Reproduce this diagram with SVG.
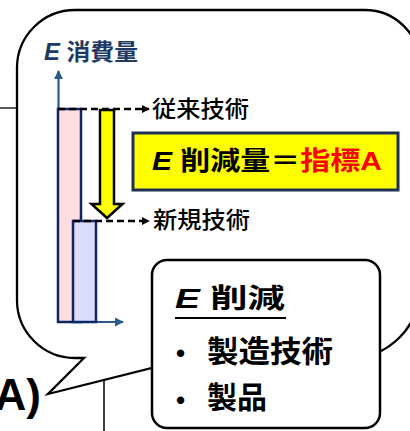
<svg xmlns="http://www.w3.org/2000/svg" width="410" height="431" viewBox="0 0 410 431">
<style>
.t{font-family:"Liberation Sans","Noto Sans CJK JP",sans-serif;}
.b{font-weight:bold;}
.m{font-family:"Noto Sans CJK JP",sans-serif;font-weight:500;}
.i{font-style:italic;}
.bar{stroke:#0d2766;stroke-width:2.5;}
.dash{stroke:#000;stroke-width:2.4;stroke-dasharray:7 4;fill:none;}
.axis{stroke:#2b5a88;stroke-width:2.2;fill:none;}
</style>
<defs>
<marker id="ah" viewBox="0 0 10 10" refX="9" refY="5" markerWidth="8" markerHeight="8" markerUnits="userSpaceOnUse" orient="auto"><path d="M0 0 L10 5 L0 10 Z" fill="#000"/></marker>
<marker id="axh" viewBox="0 0 10 10" refX="9" refY="5" markerWidth="9" markerHeight="9" markerUnits="userSpaceOnUse" orient="auto"><path d="M0 0 L10 5 L0 10 Z" fill="#2b5a88"/></marker>
</defs>
<g id="background">
<line x1="0" y1="108" x2="17" y2="108" stroke="#000" stroke-width="1.3"/>
<line x1="104" y1="380" x2="104" y2="431" stroke="#000" stroke-width="1.5"/>
<text class="t b" x="41" y="410" font-size="44" text-anchor="end" fill="#000">A)</text>
</g>
<g id="bubble">
<path d="M75 10 L365 10 A55 55 0 0 1 420 65 L420 288 A70 70 0 0 1 350 358 L192 358 L48 394 L84 358 L75 358 A58 58 0 0 1 17 300 L17 68 A58 58 0 0 1 75 10 Z" fill="#fff" stroke="#000" stroke-width="2.3"/>
</g>
<g id="axis-label">
<text class="t b" x="44" y="60" font-size="23" fill="#203864" textLength="94" lengthAdjust="spacingAndGlyphs"><tspan class="i">E</tspan> 消費量</text>
</g>
<g id="connectors">
<line class="axis" x1="58.5" y1="322" x2="58.5" y2="71" marker-end="url(#axh)"/>
<line class="axis" x1="58.5" y1="322" x2="123" y2="322" marker-end="url(#axh)"/>
</g>
<g id="bar-old">
<rect class="bar" x="58" y="109" width="23" height="213" fill="#ffdde0"/>
</g>
<g id="bar-new">
<rect class="bar" x="73" y="221" width="23" height="101" fill="#dcdcfc"/>
</g>
<g id="dashed-arrows">
<line class="dash" x1="58" y1="109" x2="149" y2="109" marker-end="url(#ah)"/>
<line class="dash" x1="73" y1="221" x2="149" y2="221" marker-end="url(#ah)"/>
</g>
<g id="label-old">
<text class="m" x="152" y="116.5" font-size="23" fill="#000" textLength="97" lengthAdjust="spacingAndGlyphs">従来技術</text>
</g>
<g id="label-new">
<text class="m" x="153" y="228" font-size="23" fill="#000" textLength="97" lengthAdjust="spacingAndGlyphs">新規技術</text>
</g>
<g id="reduction-arrow">
<path d="M100 110 L114 110 L114 204 L122.5 204 L107 218 L91.5 204 L100 204 Z" fill="#ffff00" stroke="#000" stroke-width="2.5" stroke-linejoin="miter"/>
</g>
<g id="indicator-box">
<rect x="133" y="133" width="265" height="57" fill="#ffff00" stroke="#1f3050" stroke-width="3"/>
<text class="t b" x="152" y="170" font-size="26" textLength="230" lengthAdjust="spacingAndGlyphs"><tspan class="i" fill="#000">E</tspan><tspan fill="#000"> 削減量＝</tspan><tspan fill="#ff0000">指標A</tspan></text>
</g>
<g id="reduction-box">
<rect x="152" y="260" width="228" height="168" rx="15" ry="15" fill="#fff" stroke="#000" stroke-width="2.5"/>
<text class="t b" x="175" y="308" font-size="27" textLength="110" lengthAdjust="spacingAndGlyphs"><tspan class="i">E</tspan> 削減</text>
<line x1="175" y1="318" x2="286" y2="318" stroke="#000" stroke-width="2"/>
<text class="t b" x="176" y="362" font-size="26">•</text>
<text class="t b" x="207" y="362" font-size="30" textLength="126" lengthAdjust="spacingAndGlyphs">製造技術</text>
<text class="t b" x="176" y="409" font-size="26">•</text>
<text class="t b" x="207" y="408" font-size="30" textLength="60" lengthAdjust="spacingAndGlyphs">製品</text>
</g>
</svg>
